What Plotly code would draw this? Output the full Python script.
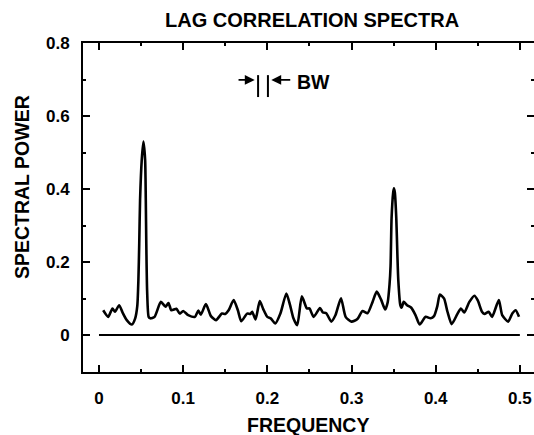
import plotly.graph_objects as go

# ---- data ----
freq = [0.005, 0.011, 0.016, 0.019, 0.024, 0.028, 0.033, 0.039, 0.043, 0.0455,
        0.0468, 0.0478, 0.0488, 0.0508, 0.0528, 0.0548, 0.0556, 0.0562, 0.0572, 0.059,
        0.061, 0.066, 0.0735, 0.079, 0.0825, 0.086, 0.092, 0.096, 0.100, 0.106,
        0.114, 0.118, 0.121, 0.127, 0.133, 0.139, 0.146, 0.150, 0.154, 0.160,
        0.165, 0.169, 0.176, 0.180, 0.182, 0.186, 0.191, 0.195, 0.200, 0.204,
        0.2095, 0.2155, 0.2226, 0.227, 0.231, 0.2355, 0.241, 0.247, 0.250, 0.255,
        0.2625, 0.266, 0.270, 0.276, 0.281, 0.2875, 0.293, 0.300, 0.307, 0.313,
        0.319, 0.325, 0.330, 0.335, 0.340, 0.343, 0.3452, 0.3464, 0.3476, 0.3495,
        0.3504, 0.3515, 0.3532, 0.3545, 0.3556, 0.358, 0.3595, 0.362, 0.366, 0.371,
        0.376, 0.381, 0.388, 0.394, 0.398, 0.402, 0.405, 0.410, 0.414, 0.419,
        0.426, 0.430, 0.434, 0.440, 0.446, 0.450, 0.455, 0.458, 0.463, 0.467,
        0.475, 0.479, 0.486, 0.491, 0.495, 0.499]
power = [0.068, 0.050, 0.073, 0.064, 0.082, 0.062, 0.041, 0.029, 0.046, 0.080,
         0.150, 0.250, 0.370, 0.480, 0.530, 0.480, 0.370, 0.250, 0.120, 0.050,
         0.046, 0.050, 0.091, 0.078, 0.088, 0.068, 0.072, 0.059, 0.066, 0.055,
         0.050, 0.067, 0.056, 0.085, 0.052, 0.041, 0.059, 0.058, 0.068, 0.096,
         0.068, 0.038, 0.059, 0.058, 0.064, 0.043, 0.093, 0.072, 0.050, 0.046,
         0.032, 0.059, 0.114, 0.082, 0.046, 0.027, 0.106, 0.073, 0.073, 0.050,
         0.074, 0.062, 0.060, 0.037, 0.055, 0.101, 0.050, 0.037, 0.044, 0.066,
         0.060, 0.091, 0.119, 0.098, 0.070, 0.090, 0.140, 0.190, 0.320, 0.390,
         0.402, 0.390, 0.320, 0.220, 0.150, 0.082, 0.075, 0.091, 0.082, 0.075,
         0.055, 0.029, 0.050, 0.046, 0.052, 0.080, 0.111, 0.100, 0.064, 0.030,
         0.059, 0.073, 0.062, 0.091, 0.108, 0.095, 0.064, 0.058, 0.064, 0.050,
         0.096, 0.055, 0.037, 0.059, 0.068, 0.050]

baseline_x = [0.0, 0.5]
baseline_y = [0.0, 0.0]

x_ticks = [0, 0.1, 0.2, 0.3, 0.4, 0.5]
x_tick_labels = ["0", "0.1", "0.2", "0.3", "0.4", "0.5"]
y_ticks = [0, 0.2, 0.4, 0.6, 0.8]
y_tick_labels = ["0", "0.2", "0.4", "0.6", "0.8"]

bw_left, bw_right = 0.189, 0.2007

FONT = "Liberation Sans, Arial, Helvetica, sans-serif"
XR = [-0.019, 0.5168]
YR = [-0.101, 0.8]

fig = go.Figure()
fig.add_trace(go.Scatter(x=freq, y=power, mode="lines",
                         line=dict(color="black", width=2.6, shape="spline", smoothing=0.6),
                         showlegend=False, hoverinfo="skip"))
fig.add_trace(go.Scatter(x=baseline_x, y=baseline_y, mode="lines", yaxis="y2",
                         line=dict(color="black", width=2), showlegend=False,
                         hoverinfo="skip"))

tickfont = dict(family=FONT, size=17, color="black", weight="bold")

fig.update_layout(
    width=534, height=435,
    margin=dict(l=83, r=0, t=43, b=63),
    paper_bgcolor="white", plot_bgcolor="white",
    showlegend=False,
    xaxis=dict(range=XR, showgrid=False, zeroline=False, showline=True,
               linecolor="black", linewidth=2, mirror="ticks",
               ticks="inside", ticklen=7, tickwidth=1.5, tickcolor="black",
               tickvals=x_ticks, ticktext=x_tick_labels, tickfont=tickfont,
               ticklabelstandoff=10,
               minor=dict(ticks="inside", ticklen=3, tickwidth=1.5, dtick=0.05,
                          tick0=0, tickcolor="black")),
    yaxis=dict(range=YR, showgrid=False, zeroline=False, showline=True,
               linecolor="black", linewidth=2, mirror=False,
               ticks="inside", ticklen=7, tickwidth=1.5, tickcolor="black",
               tickvals=y_ticks, ticktext=y_tick_labels, tickfont=tickfont,
               ticklabelstandoff=8,
               minor=dict(ticks="inside", ticklen=3, tickwidth=1.5, dtick=0.1,
                          tick0=0, tickcolor="black")),
    yaxis2=dict(range=YR, overlaying="y", side="right", showgrid=False,
                zeroline=False, showline=False, ticks="inside", ticklen=7,
                tickwidth=1.5, tickcolor="black", tickvals=y_ticks,
                showticklabels=False,
                minor=dict(ticks="inside", ticklen=3, tickwidth=1.5, dtick=0.1,
                           tick0=0, tickcolor="black")),
)

W = 451.0  # plot width in px
def px(xpix):
    return (xpix - 83) / W

# Title and axis titles
fig.add_annotation(text="LAG CORRELATION SPECTRA", xref="paper", yref="paper",
                   x=px(312), y=1.070, xanchor="center", yanchor="middle",
                   showarrow=False, font=dict(family=FONT, size=20, color="black", weight="bold"))
fig.add_annotation(text="FREQUENCY", xref="paper", yref="paper",
                   x=px(308), y=-0.161, xanchor="center", yanchor="middle",
                   showarrow=False, font=dict(family=FONT, size=19.5, color="black", weight="bold"))
fig.add_annotation(text="SPECTRAL POWER", xref="paper", yref="paper",
                   x=px(22), y=0.562, xanchor="center", yanchor="middle", textangle=-90,
                   showarrow=False, font=dict(family=FONT, size=19.5, color="black", weight="bold"))

# Bandwidth indicator
for bx in (bw_left, bw_right):
    fig.add_shape(type="line", xref="x", yref="y", x0=bx, x1=bx, y0=0.652, y1=0.712,
                  line=dict(color="black", width=2))
fig.add_annotation(x=bw_left - 0.004, y=0.699, ax=0.164, ay=0.699, xref="x", yref="y",
                   axref="x", ayref="y", text="", showarrow=True, arrowhead=2,
                   arrowsize=1.1, arrowwidth=1.8, arrowcolor="black")
fig.add_annotation(x=bw_right + 0.004, y=0.699, ax=0.229, ay=0.699, xref="x", yref="y",
                   axref="x", ayref="y", text="", showarrow=True, arrowhead=2,
                   arrowsize=1.1, arrowwidth=1.8, arrowcolor="black")
fig.add_annotation(text="BW", x=0.233, y=0.693, xref="x", yref="y", xanchor="left",
                   yanchor="middle", showarrow=False,
                   font=dict(family=FONT, size=19.5, color="black", weight="bold"))

fig.write_html("out.html")
